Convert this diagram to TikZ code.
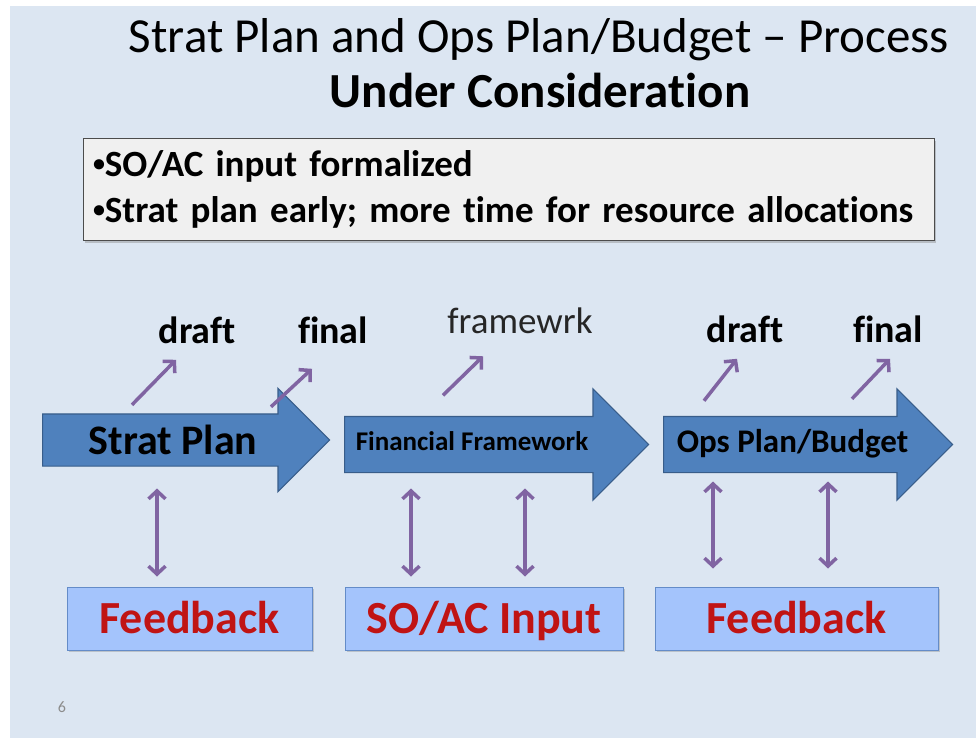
\documentclass[tikz,border=0pt]{standalone}
\usepackage{fontspec}
\setmainfont{Carlito}[Ligatures={NoCommon}]
\usetikzlibrary{arrows.meta,shapes,positioning,shadows,calc}

\definecolor{slidebg}{RGB}{220,230,242}
\definecolor{notegray}{RGB}{240,240,240}
\definecolor{arrowblue}{RGB}{79,129,189}
\definecolor{arrowline}{RGB}{56,93,138}
\definecolor{tagpurple}{RGB}{128,100,162}
\definecolor{boxblue}{RGB}{164,196,252}
\definecolor{boxline}{RGB}{100,140,200}
\definecolor{fbred}{RGB}{192,20,20}

\newcommand{\notedot}{{\fontsize{24}{24}\selectfont\raisebox{0.2em}{•}}}

\tikzset{
  bigarrow/.style={single arrow, draw=arrowline, fill=arrowblue, line width=1.2pt,
    inner xsep=0pt, anchor=tail},
  arrowlabel/.style={anchor=base, inner sep=0pt, font=\bfseries},
  steplabel/.style={anchor=base, inner sep=0pt, font=\fontsize{38}{40}\selectfont\bfseries},
  inputbox/.style={draw=boxline, fill=boxblue, line width=1pt, minimum height=63pt,
    inner sep=0pt, text height=36pt, text depth=7pt, text=fbred,
    font=\fontsize{46}{48}\selectfont\bfseries,
    drop shadow={shadow xshift=1.5pt, shadow yshift=-2pt, opacity=0.35}},
  tagarrow/.style={tagpurple, line width=3.5pt, -{Straight Barb[length=8pt,width=17pt]}},
  linkarrow/.style={tagpurple, line width=3.5pt,
    {Straight Barb[length=8pt,width=17pt]}-{Straight Barb[length=8pt,width=17pt]}},
}

\begin{document}
\begin{tikzpicture}[x=1pt, y=-1pt]
  \useasboundingbox (0,0) rectangle (976,738);
  \fill[slidebg] (10,6) rectangle (976,738);

  % Title
  \node[anchor=base, inner sep=0pt, font=\fontsize{49}{52}\selectfont] (title) at (539,53)
    {Strat Plan and Ops Plan/Budget -- Process};
  \node[anchor=base, inner sep=0pt, font=\fontsize{49}{52}\selectfont\bfseries] (subtitle) at (540,108)
    {Under Consideration};

  % Notes box
  \node[draw=black!70, fill=notegray, line width=0.8pt, minimum width=851pt, minimum height=102pt,
    text width=831pt, align=left, inner xsep=10pt, inner ysep=0pt,
    font=\fontsize{37}{46}\selectfont\bfseries,
    drop shadow={shadow xshift=2pt, shadow yshift=-3pt, opacity=0.4}] (notes) at (508.5,189)
    {\notedot SO/AC input formalized\\
     \notedot Strat plan early; more time for resource allocations};

  % Process arrows
  \node[bigarrow, minimum height=287pt, inner ysep=25.5pt, single arrow head extend=25.5pt] (strat) at (42,440) {};
  \node[bigarrow, minimum height=304pt, inner ysep=27.5pt, single arrow head extend=27.5pt] (fin) at (344,444.5) {};
  \node[bigarrow, minimum height=289pt, inner ysep=27.5pt, single arrow head extend=27.5pt] (ops) at (663,444.5) {};

  \node[arrowlabel, font=\fontsize{42}{46}\selectfont\bfseries] (strattext) at (173,454) {Strat Plan};
  \node[arrowlabel, font=\fontsize{27}{30}\selectfont\bfseries] (fintext) at (472,450) {Financial Framework};
  \node[arrowlabel, font=\fontsize{33}{36}\selectfont\bfseries] (opstext) at (792.5,452) {Ops Plan/Budget};

  % Outputs
  \node[steplabel] (draft1) at (197,343) {draft};
  \node[steplabel] (final1) at (333,343) {final};
  \node[anchor=base, inner sep=0pt, font=\fontsize{37}{40}\selectfont, text=black!85] (frame) at (520,333) {framewrk};
  \node[steplabel] (draft2) at (745,342) {draft};
  \node[steplabel] (final2) at (888,342) {final};

  \draw[tagarrow] ($(draft1)+(-65,75)$) -- ($(draft1)+(-21,30)$);
  \draw[tagarrow] ($(final1)+(-62,77)$) -- ($(final1)+(-21,39)$);
  \draw[tagarrow] ($(frame)+(-77,75)$) -- ($(frame)+(-37,36)$);
  \draw[tagarrow] ($(draft2)+(-41,72)$) -- ($(draft2)+(-8,30)$);
  \draw[tagarrow] ($(final2)+(-36,70)$) -- ($(final2)+(2,30)$);

  % Inputs
  \node[inputbox, minimum width=245pt] (fb1) at (189.5,618.5) {Feedback};
  \node[inputbox, minimum width=278pt] (soac) at (484,618.5) {SO/AC Input};
  \node[inputbox, minimum width=283pt] (fb2) at (796.5,618.5) {Feedback};

  \draw[linkarrow] ($(fb1.north)+(-32.5,-98)$) -- ($(fb1.north)+(-32.5,-10)$);
  \draw[linkarrow] ($(soac.north)+(-73,-98)$) -- ($(soac.north)+(-73,-10)$);
  \draw[linkarrow] ($(soac.north)+(41,-98)$) -- ($(soac.north)+(41,-10)$);
  \draw[linkarrow] ($(fb2.north)+(-83.5,-105)$) -- ($(fb2.north)+(-83.5,-18)$);
  \draw[linkarrow] ($(fb2.north)+(31.5,-105)$) -- ($(fb2.north)+(31.5,-18)$);

  \node[anchor=base, inner sep=0pt, text=black!45, font=\fontsize{16}{18}\selectfont] (pagenum) at (62,712) {6};
\end{tikzpicture}
\end{document}
